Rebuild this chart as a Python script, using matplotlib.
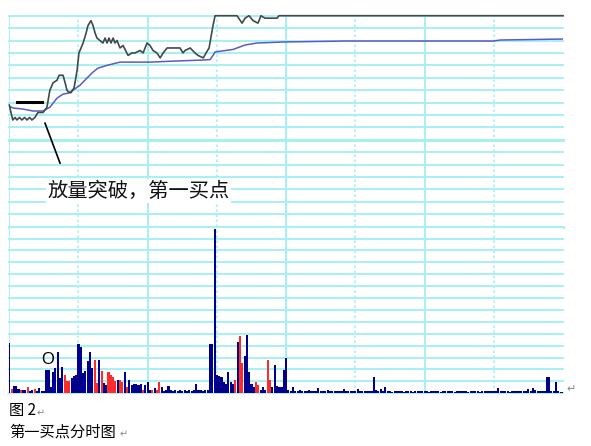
import matplotlib
matplotlib.use("Agg")
import matplotlib.pyplot as plt

plt.rcParams['font.family'] = ['Noto Sans CJK SC', 'DejaVu Sans']

# intraday price (minute, price)
price_t = [0, 1.5, 2.5, 3.3, 4.4, 5.5, 6.6, 7.7, 8.8, 9.8, 11.1, 12.4, 14.6, 16.3, 17.6,
           19.0, 20.7, 21.6, 23.3, 24.2, 25.0, 25.9, 26.8, 28.1, 29.4, 30.2, 32.0, 33.3,
           34.1, 35.4, 36.3, 37.2, 38.0, 39.3, 40.6, 41.5, 42.4, 43.2, 44.1, 45.0, 45.8,
           46.7, 48.0, 49.3, 51.5, 53.2, 54.5, 56.7, 58.0, 59.7, 61.0, 62.3, 64.0, 65.4,
           66.7, 68.4, 74.0, 75.3, 76.2, 78.4, 80.5, 81.8, 84.1, 85.3, 86.6, 88.3, 89.2,
           98.7, 100.9, 102.2, 103.9, 105.7, 107.8, 109.1, 110.8, 116.1, 116.9, 240]
price = [10.64, 10.58, 10.59, 10.58, 10.59, 10.58, 10.59, 10.58, 10.59, 10.58, 10.59,
         10.61, 10.61, 10.63, 10.70, 10.73, 10.74, 10.76, 10.76, 10.73, 10.70, 10.69,
         10.69, 10.71, 10.78, 10.85, 10.89, 10.93, 10.96, 10.98, 10.96, 10.93, 10.91,
         10.90, 10.89, 10.91, 10.89, 10.91, 10.89, 10.91, 10.89, 10.90, 10.87, 10.88,
         10.84, 10.85, 10.85, 10.86, 10.85, 10.89, 10.88, 10.86, 10.85, 10.83, 10.85,
         10.87, 10.87, 10.85, 10.86, 10.87, 10.85, 10.84, 10.83, 10.85, 10.87, 10.96,
         11.00, 11.00, 10.97, 10.99, 11.00, 10.98, 10.97, 11.00, 10.99, 10.99, 11.00, 11.00]

# average price line
avg_t = [0, 1.6, 5.9, 10.3, 14.6, 17.7, 20.7, 23.3, 25.5, 27.6, 30.7, 33.7, 36.3, 38.5,
         42.4, 48.0, 61.0, 71.0, 82.7, 87.0, 88.3, 89.2, 97.0, 102.2, 107.4, 118.7,
         145.6, 209.8, 212.8, 240]
avg = [10.636, 10.628, 10.624, 10.616, 10.616, 10.632, 10.668, 10.684, 10.688, 10.700,
       10.720, 10.749, 10.773, 10.789, 10.800, 10.813, 10.813, 10.817, 10.821, 10.823,
       10.840, 10.854, 10.864, 10.882, 10.890, 10.894, 10.898, 10.898, 10.902, 10.906]

# volume per minute
volume = [51, 4, 7, 7, 4, 3, 3, 3, 6, 2,
          3, 4, 2, 5, 2, 2, 23, 23, 6, 21,
          25, 42, 15, 27, 18, 12, 12, 15, 17, 18,
          50, 47, 20, 22, 33, 42, 25, 34, 10, 34,
          22, 10, 8, 21, 18, 16, 12, 13, 13, 11,
          21, 6, 13, 8, 9, 9, 8, 9, 3, 8,
          11, 3, 3, 5, 3, 11, 6, 2, 3, 7,
          3, 2, 3, 2, 3, 2, 3, 2, 3, 2,
          3, 9, 3, 3, 2, 3, 3, 50, 50, 166,
          18, 17, 16, 11, 9, 21, 11, 9, 13, 52,
          58, 31, 38, 59, 21, 9, 6, 11, 8, 3,
          6, 3, 34, 13, 6, 29, 7, 6, 6, 23,
          36, 3, 2, 6, 2, 2, 3, 2, 2, 2,
          3, 2, 2, 2, 5, 2, 2, 2, 3, 2,
          2, 2, 2, 2, 2, 4, 2, 2, 2, 2,
          2, 4, 2, 2, 2, 2, 2, 2, 16, 3,
          2, 4, 2, 6, 2, 2, 1, 2, 2, 2,
          2, 1, 2, 2, 2, 1, 2, 2, 2, 2,
          2, 2, 1, 2, 2, 2, 2, 1, 2, 2,
          2, 2, 2, 1, 2, 2, 2, 2, 2, 1,
          2, 2, 2, 2, 1, 2, 2, 2, 2, 2,
          2, 2, 5, 2, 2, 2, 2, 1, 2, 2,
          2, 2, 2, 2, 2, 4, 2, 5, 3, 2,
          2, 2, 2, 16, 16, 2, 2, 11, 2, 1,
          1]
up_minutes = [1, 5, 8, 11, 24, 25, 26, 37, 38, 40, 43, 44, 45, 46, 48, 49, 51, 58,
              62, 64, 65, 98, 100, 101, 107, 108, 112, 113]

GRID = '#a6f0f4'
fig = plt.figure(figsize=(5.91, 4.46), dpi=100)
ax = fig.add_axes([0.0157, 0.4917, 0.9369, 0.4731])
axv = fig.add_axes([0.0157, 0.1182, 0.9369, 0.3735])

for a in (ax, axv):
    a.set_xlim(0, 240)
    for s in a.spines.values():
        s.set_visible(False)
    a.set_xticks([])
    a.set_yticks([])
    for m in (0, 60, 120, 180):
        a.axvline(m, color=GRID, lw=1.4, zorder=0)
    for m in (30, 90, 150, 210):
        a.axvline(m, color=GRID, lw=1.2, ls=(0, (1.5, 1.5)), zorder=0)

# price panel
ax.set_ylim(10.15, 11.0)
for k in range(18):
    y = 10.15 + k * 0.05
    lw = 2.2 if k in (0, 7) else 1.4
    ax.axhline(y, color=GRID, lw=lw, zorder=0, clip_on=False)
ax.plot(avg_t, avg, color='#5a5ac8', lw=1.1, zorder=2)
ax.plot(price_t, price, color='#3f4a4a', lw=1.2, zorder=3, clip_on=False)

# annotations
ax.plot([3.3, 14.3], [10.652, 10.652], color='black', lw=2.2, zorder=4)
ax.plot([15.5, 22.0], [10.567, 10.406], color='black', lw=1.2, zorder=4, clip_on=False)
ax.text(16.6, 10.293, '放量突破，第一买点', fontsize=14.6, color='#111111', ha='left',
        va='center', zorder=5, bbox=dict(facecolor='white', edgecolor='none', pad=1))

# volume panel
axv.set_ylim(0, 168)
for k in range(15):
    axv.axhline(k * 12, color=GRID, lw=1.4, zorder=0, clip_on=False)
colors = ['#ff2a2a' if i in up_minutes else '#00008c' for i in range(len(volume))]
axv.bar(range(len(volume)), volume, width=0.9, color=colors, align='center', zorder=2)
axv.text(16.8, 34, 'O', fontsize=12, family=['Liberation Sans'], ha='center',
         va='center', color='black', zorder=5)

# captions
fig.text(566 / 591, 1 - 389 / 446, '↵', fontsize=8, color='#888888', family=['DejaVu Sans'],
         ha='left', va='center')
fig.text(9 / 591, 1 - 411 / 446, '图 2', fontsize=11, ha='left', va='center')
fig.text(37 / 591, 1 - 413 / 446, '↵', fontsize=7, color='#888888', family=['DejaVu Sans'],
         ha='left', va='center')
fig.text(9 / 591, 1 - 432 / 446, '第一买点分时图', fontsize=11, ha='left', va='center')
fig.text(120 / 591, 1 - 434 / 446, '↵', fontsize=7, color='#888888', family=['DejaVu Sans'],
         ha='left', va='center')

fig.savefig('out.png', dpi=100)
